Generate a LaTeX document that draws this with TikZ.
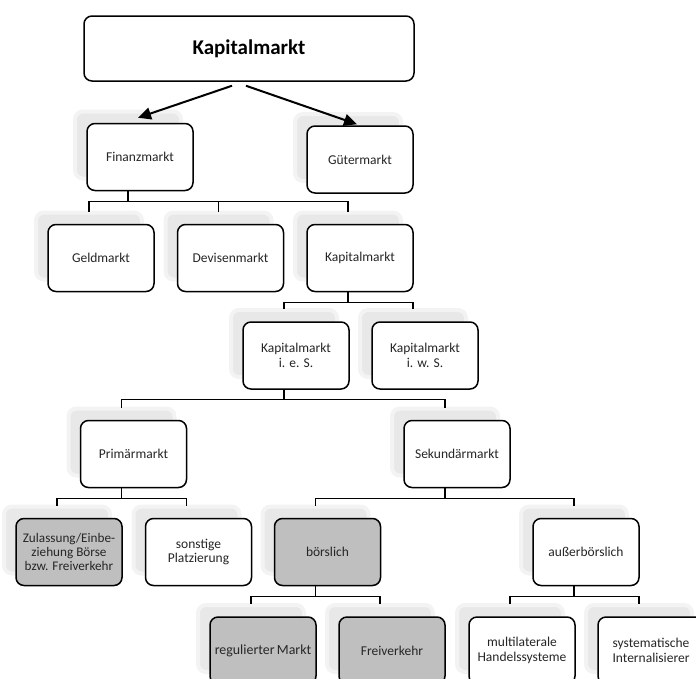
\documentclass[tikz,border=0pt]{standalone}
\usepackage{fontspec}
\setmainfont{Carlito}
\usetikzlibrary{arrows.meta,shadows}
\definecolor{boxgray}{RGB}{191,191,191}
\definecolor{textgray}{RGB}{38,38,38}
\definecolor{shadowgray}{RGB}{232,232,232}
\definecolor{shadowedge}{RGB}{243,243,243}

\begin{document}
\begin{tikzpicture}[x=1pt, y=-1pt,
    boxbase/.style={rectangle, rounded corners=8pt, draw, line width=1.5pt, fill=white, minimum width=106pt, minimum height=67pt, align=center, inner sep=2pt, text=textgray, font=\fontsize{13.5}{14.3}\selectfont},
    mbox/.style={boxbase,
        general shadow={fill=shadowgray, draw=shadowedge, line width=4pt, shadow xshift=-12pt, shadow yshift=12pt}},
    gbox/.style={mbox, fill=boxgray},
    conn/.style={line width=1.3pt},
    arr/.style={-{Triangle[length=13pt,width=12pt]}, line width=2pt}]
    \useasboundingbox (0,0) rectangle (696,678);
    \clip (0,0) rectangle (696,678);

    % Top node
    \node[boxbase, minimum width=330pt, minimum height=65pt, text=black, font=\fontsize{21}{21}\selectfont\bfseries] (top) at (249,48.5) {Kapitalmarkt};

    % First level
    \node[mbox] (fin) at (140,157) {Finanzmarkt};
    \node[mbox] (gut) at (360,159.5) {Gütermarkt};

    % Arrows
    \draw[arr] ([xshift=-17pt,yshift=-4pt]top.south) -- ([xshift=-2pt,yshift=5pt]fin.north);
    \draw[arr] ([xshift=-3pt,yshift=-4pt]top.south) -- ([xshift=-3pt,yshift=1pt]gut.north);

    % Finanzmarkt branch
    \node[mbox] (geld) at (101,258) {Geldmarkt};
    \node[mbox] (dev) at (230.5,258) {Devisenmarkt};
    \node[mbox] (kap) at (360,258) {Kapitalmarkt};

    % Kapitalmarkt branch
    \node[mbox] (kies) at (296,355.5) {Kapitalmarkt\\i. e. S.};
    \node[mbox] (kiws) at (425,355.5) {Kapitalmarkt\\i. w. S.};

    % Primary and secondary market
    \node[mbox] (prim) at (133.5,454) {Primärmarkt};
    \node[mbox] (sek) at (457,454) {Sekundärmarkt};

    % Fourth level
    \node[gbox, font=\fontsize{13.2}{14.3}\selectfont] (zul) at (69,552) {Zulassung/Einbe-\\ziehung Börse\\bzw. Freiverkehr};
    \node[mbox] (sonst) at (198.5,552) {sonstige\\Platzierung};
    \node[gbox] (boers) at (327.5,552) {börslich};
    \node[mbox] (aus) at (586,552) {außerbörslich};

    % Bottom level
    \node[gbox, font=\fontsize{13.9}{14.3}\selectfont] (reg) at (263,650.5) {regulierter\,Markt};
    \node[gbox] (frei) at (392,650.5) {Freiverkehr};
    \node[mbox] (mult) at (522,650.5) {multilaterale\\Handelssysteme};
    \node[mbox] (sys) at (651,650.5) {systematische\\Internalisierer};

    % Connectors
    \foreach \c in {geld,dev,kap}
        \draw[conn] ([xshift=-12pt]fin.south) -- ++(0,10) -| ([xshift=-12pt,yshift=12pt]\c.north);
    \foreach \c in {kies,kiws}
        \draw[conn] ([xshift=-12pt]kap.south) -- ++(0,10) -| ([xshift=-12pt,yshift=12pt]\c.north);
    \foreach \c in {prim,sek}
        \draw[conn] ([xshift=-12pt]kies.south) -- ++(0,10) -| ([xshift=-12pt,yshift=12pt]\c.north);
    \foreach \c in {zul,sonst}
        \draw[conn] ([xshift=-12pt]prim.south) -- ++(0,10) -| ([xshift=-12pt,yshift=12pt]\c.north);
    \foreach \c in {boers,aus}
        \draw[conn] ([xshift=-12pt]sek.south) -- ++(0,10) -| ([xshift=-12pt,yshift=12pt]\c.north);
    \foreach \c in {reg,frei}
        \draw[conn] ([xshift=-12pt]boers.south) -- ++(0,10) -| ([xshift=-12pt,yshift=12pt]\c.north);
    \foreach \c in {mult,sys}
        \draw[conn] ([xshift=-12pt]aus.south) -- ++(0,10) -| ([xshift=-12pt,yshift=12pt]\c.north);
\end{tikzpicture}
\end{document}
